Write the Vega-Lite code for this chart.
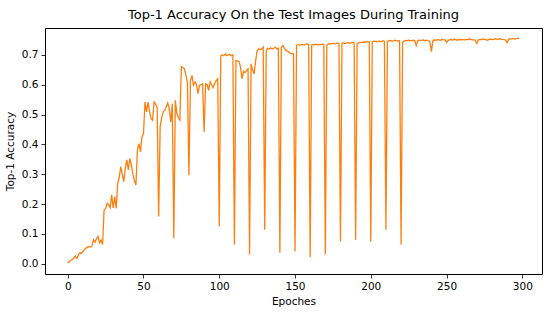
{
  "$schema": "https://vega.github.io/schema/vega-lite/v6.json",
  "width": 497,
  "height": 246,
  "autosize": {"type": "none"},
  "padding": {"left": 45, "top": 28, "right": 8, "bottom": 42},
  "background": "white",
  "title": {"text": "Top-1 Accuracy On the Test Images During Training", "font": "DejaVu Sans", "fontSize": 13, "fontWeight": "normal", "color": "#000", "offset": 6},
  "config": {
    "view": {"stroke": "#000", "strokeWidth": 1},
    "axis": {"domain": false, "grid": false, "tickColor": "#000", "tickSize": 4, "tickWidth": 0.8, "labelFont": "DejaVu Sans", "labelFontSize": 10.5, "labelColor": "#000", "titleFont": "DejaVu Sans", "titleFontSize": 10.5, "titleFontWeight": "normal", "titleColor": "#000", "labelPadding": 3}
  },
  "data": {"values": [
    {"epoch":0,"acc":0.003},{"epoch":1,"acc":0.008},{"epoch":2,"acc":0.012},{"epoch":3,"acc":0.014},{"epoch":4,"acc":0.020},{"epoch":5,"acc":0.026},{"epoch":6,"acc":0.018},{"epoch":7,"acc":0.030},{"epoch":8,"acc":0.037},{"epoch":9,"acc":0.035},
    {"epoch":10,"acc":0.042},{"epoch":11,"acc":0.047},{"epoch":12,"acc":0.053},{"epoch":13,"acc":0.055},{"epoch":14,"acc":0.058},{"epoch":15,"acc":0.056},{"epoch":16,"acc":0.060},{"epoch":17,"acc":0.081},{"epoch":18,"acc":0.072},{"epoch":19,"acc":0.085},
    {"epoch":20,"acc":0.092},{"epoch":21,"acc":0.070},{"epoch":22,"acc":0.080},{"epoch":23,"acc":0.065},{"epoch":24,"acc":0.180},{"epoch":25,"acc":0.185},{"epoch":26,"acc":0.203},{"epoch":27,"acc":0.198},{"epoch":28,"acc":0.188},{"epoch":29,"acc":0.231},
    {"epoch":30,"acc":0.187},{"epoch":31,"acc":0.225},{"epoch":32,"acc":0.186},{"epoch":33,"acc":0.270},{"epoch":34,"acc":0.290},{"epoch":35,"acc":0.325},{"epoch":36,"acc":0.300},{"epoch":37,"acc":0.275},{"epoch":38,"acc":0.320},{"epoch":39,"acc":0.348},
    {"epoch":40,"acc":0.315},{"epoch":41,"acc":0.353},{"epoch":42,"acc":0.330},{"epoch":43,"acc":0.300},{"epoch":44,"acc":0.280},{"epoch":45,"acc":0.264},{"epoch":46,"acc":0.381},{"epoch":47,"acc":0.403},{"epoch":48,"acc":0.375},{"epoch":49,"acc":0.425},
    {"epoch":50,"acc":0.436},{"epoch":51,"acc":0.542},{"epoch":52,"acc":0.509},{"epoch":53,"acc":0.542},{"epoch":54,"acc":0.510},{"epoch":55,"acc":0.487},{"epoch":56,"acc":0.481},{"epoch":57,"acc":0.542},{"epoch":58,"acc":0.535},{"epoch":59,"acc":0.525},
    {"epoch":60,"acc":0.159},{"epoch":61,"acc":0.459},{"epoch":62,"acc":0.490},{"epoch":63,"acc":0.509},{"epoch":64,"acc":0.514},{"epoch":65,"acc":0.525},{"epoch":66,"acc":0.539},{"epoch":67,"acc":0.520},{"epoch":68,"acc":0.475},{"epoch":69,"acc":0.536},
    {"epoch":70,"acc":0.086},{"epoch":71,"acc":0.548},{"epoch":72,"acc":0.503},{"epoch":73,"acc":0.490},{"epoch":74,"acc":0.481},{"epoch":75,"acc":0.661},{"epoch":76,"acc":0.658},{"epoch":77,"acc":0.653},{"epoch":78,"acc":0.631},{"epoch":79,"acc":0.609},
    {"epoch":80,"acc":0.297},{"epoch":81,"acc":0.614},{"epoch":82,"acc":0.631},{"epoch":83,"acc":0.598},{"epoch":84,"acc":0.609},{"epoch":85,"acc":0.600},{"epoch":86,"acc":0.570},{"epoch":87,"acc":0.598},{"epoch":88,"acc":0.600},{"epoch":89,"acc":0.603},
    {"epoch":90,"acc":0.442},{"epoch":91,"acc":0.603},{"epoch":92,"acc":0.600},{"epoch":93,"acc":0.581},{"epoch":94,"acc":0.610},{"epoch":95,"acc":0.600},{"epoch":96,"acc":0.590},{"epoch":97,"acc":0.605},{"epoch":98,"acc":0.614},{"epoch":99,"acc":0.620},
    {"epoch":100,"acc":0.125},{"epoch":101,"acc":0.698},{"epoch":102,"acc":0.700},{"epoch":103,"acc":0.697},{"epoch":104,"acc":0.703},{"epoch":105,"acc":0.698},{"epoch":106,"acc":0.700},{"epoch":107,"acc":0.702},{"epoch":108,"acc":0.697},{"epoch":109,"acc":0.700},
    {"epoch":110,"acc":0.065},{"epoch":111,"acc":0.681},{"epoch":112,"acc":0.680},{"epoch":113,"acc":0.678},{"epoch":114,"acc":0.660},{"epoch":115,"acc":0.620},{"epoch":116,"acc":0.645},{"epoch":117,"acc":0.640},{"epoch":118,"acc":0.648},{"epoch":119,"acc":0.653},
    {"epoch":120,"acc":0.031},{"epoch":121,"acc":0.670},{"epoch":122,"acc":0.650},{"epoch":123,"acc":0.636},{"epoch":124,"acc":0.680},{"epoch":125,"acc":0.714},{"epoch":126,"acc":0.720},{"epoch":127,"acc":0.718},{"epoch":128,"acc":0.720},{"epoch":129,"acc":0.726},
    {"epoch":130,"acc":0.114},{"epoch":131,"acc":0.714},{"epoch":132,"acc":0.722},{"epoch":133,"acc":0.720},{"epoch":134,"acc":0.724},{"epoch":135,"acc":0.720},{"epoch":136,"acc":0.722},{"epoch":137,"acc":0.726},{"epoch":138,"acc":0.720},{"epoch":139,"acc":0.722},
    {"epoch":140,"acc":0.037},{"epoch":141,"acc":0.726},{"epoch":142,"acc":0.731},{"epoch":143,"acc":0.722},{"epoch":144,"acc":0.715},{"epoch":145,"acc":0.712},{"epoch":146,"acc":0.709},{"epoch":147,"acc":0.706},{"epoch":148,"acc":0.703},{"epoch":149,"acc":0.703},
    {"epoch":150,"acc":0.042},{"epoch":151,"acc":0.731},{"epoch":152,"acc":0.735},{"epoch":153,"acc":0.733},{"epoch":154,"acc":0.734},{"epoch":155,"acc":0.735},{"epoch":156,"acc":0.733},{"epoch":157,"acc":0.736},{"epoch":158,"acc":0.737},{"epoch":159,"acc":0.735},
    {"epoch":160,"acc":0.022},{"epoch":161,"acc":0.733},{"epoch":162,"acc":0.735},{"epoch":163,"acc":0.734},{"epoch":164,"acc":0.736},{"epoch":165,"acc":0.733},{"epoch":166,"acc":0.735},{"epoch":167,"acc":0.734},{"epoch":168,"acc":0.736},{"epoch":169,"acc":0.735},
    {"epoch":170,"acc":0.031},{"epoch":171,"acc":0.733},{"epoch":172,"acc":0.736},{"epoch":173,"acc":0.738},{"epoch":174,"acc":0.737},{"epoch":175,"acc":0.739},{"epoch":176,"acc":0.737},{"epoch":177,"acc":0.738},{"epoch":178,"acc":0.740},{"epoch":179,"acc":0.737},
    {"epoch":180,"acc":0.075},{"epoch":181,"acc":0.739},{"epoch":182,"acc":0.740},{"epoch":183,"acc":0.738},{"epoch":184,"acc":0.740},{"epoch":185,"acc":0.741},{"epoch":186,"acc":0.739},{"epoch":187,"acc":0.740},{"epoch":188,"acc":0.742},{"epoch":189,"acc":0.740},
    {"epoch":190,"acc":0.080},{"epoch":191,"acc":0.737},{"epoch":192,"acc":0.740},{"epoch":193,"acc":0.742},{"epoch":194,"acc":0.741},{"epoch":195,"acc":0.743},{"epoch":196,"acc":0.742},{"epoch":197,"acc":0.745},{"epoch":198,"acc":0.743},{"epoch":199,"acc":0.744},
    {"epoch":200,"acc":0.074},{"epoch":201,"acc":0.744},{"epoch":202,"acc":0.746},{"epoch":203,"acc":0.745},{"epoch":204,"acc":0.744},{"epoch":205,"acc":0.746},{"epoch":206,"acc":0.745},{"epoch":207,"acc":0.744},{"epoch":208,"acc":0.747},{"epoch":209,"acc":0.745},
    {"epoch":210,"acc":0.114},{"epoch":211,"acc":0.746},{"epoch":212,"acc":0.747},{"epoch":213,"acc":0.748},{"epoch":214,"acc":0.746},{"epoch":215,"acc":0.747},{"epoch":216,"acc":0.749},{"epoch":217,"acc":0.747},{"epoch":218,"acc":0.748},{"epoch":219,"acc":0.747},
    {"epoch":220,"acc":0.065},{"epoch":221,"acc":0.742},{"epoch":222,"acc":0.746},{"epoch":223,"acc":0.748},{"epoch":224,"acc":0.747},{"epoch":225,"acc":0.749},{"epoch":226,"acc":0.748},{"epoch":227,"acc":0.747},{"epoch":228,"acc":0.749},{"epoch":229,"acc":0.748},
    {"epoch":230,"acc":0.731},{"epoch":231,"acc":0.747},{"epoch":232,"acc":0.749},{"epoch":233,"acc":0.748},{"epoch":234,"acc":0.750},{"epoch":235,"acc":0.749},{"epoch":236,"acc":0.747},{"epoch":237,"acc":0.749},{"epoch":238,"acc":0.748},{"epoch":239,"acc":0.744},
    {"epoch":240,"acc":0.711},{"epoch":241,"acc":0.748},{"epoch":242,"acc":0.750},{"epoch":243,"acc":0.749},{"epoch":244,"acc":0.751},{"epoch":245,"acc":0.750},{"epoch":246,"acc":0.748},{"epoch":247,"acc":0.752},{"epoch":248,"acc":0.750},{"epoch":249,"acc":0.751},
    {"epoch":250,"acc":0.742},{"epoch":251,"acc":0.748},{"epoch":252,"acc":0.750},{"epoch":253,"acc":0.752},{"epoch":254,"acc":0.749},{"epoch":255,"acc":0.753},{"epoch":256,"acc":0.751},{"epoch":257,"acc":0.749},{"epoch":258,"acc":0.752},{"epoch":259,"acc":0.750},
    {"epoch":260,"acc":0.752},{"epoch":261,"acc":0.751},{"epoch":262,"acc":0.750},{"epoch":263,"acc":0.752},{"epoch":264,"acc":0.751},{"epoch":265,"acc":0.753},{"epoch":266,"acc":0.752},{"epoch":267,"acc":0.750},{"epoch":268,"acc":0.751},{"epoch":269,"acc":0.748},
    {"epoch":270,"acc":0.738},{"epoch":271,"acc":0.750},{"epoch":272,"acc":0.752},{"epoch":273,"acc":0.751},{"epoch":274,"acc":0.753},{"epoch":275,"acc":0.752},{"epoch":276,"acc":0.751},{"epoch":277,"acc":0.749},{"epoch":278,"acc":0.752},{"epoch":279,"acc":0.753},
    {"epoch":280,"acc":0.751},{"epoch":281,"acc":0.752},{"epoch":282,"acc":0.754},{"epoch":283,"acc":0.753},{"epoch":284,"acc":0.752},{"epoch":285,"acc":0.754},{"epoch":286,"acc":0.753},{"epoch":287,"acc":0.752},{"epoch":288,"acc":0.751},{"epoch":289,"acc":0.749},
    {"epoch":290,"acc":0.741},{"epoch":291,"acc":0.752},{"epoch":292,"acc":0.754},{"epoch":293,"acc":0.753},{"epoch":294,"acc":0.755},{"epoch":295,"acc":0.753},{"epoch":296,"acc":0.754},{"epoch":297,"acc":0.756},{"epoch":298,"acc":0.754}
  ]},
  "mark": {"type": "line", "color": "#ff7f0e", "strokeWidth": 1.3, "clip": true},
  "encoding": {
    "x": {"field": "epoch", "type": "quantitative", "title": "Epoches", "scale": {"domain": [-15, 313], "nice": false, "zero": false}, "axis": {"values": [0, 50, 100, 150, 200, 250, 300], "titlePadding": 5}},
    "y": {"field": "acc", "type": "quantitative", "title": "Top-1 Accuracy", "scale": {"domain": [-0.034, 0.79], "nice": false, "zero": false}, "axis": {"values": [0, 0.1, 0.2, 0.3, 0.4, 0.5, 0.6, 0.7], "format": ".1f", "titlePadding": 6}}
  }
}
